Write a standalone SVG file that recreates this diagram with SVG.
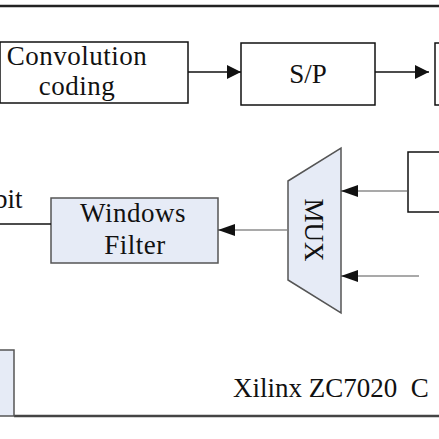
<svg xmlns="http://www.w3.org/2000/svg" width="439" height="439" viewBox="0 0 439 439">
<style>
.box{fill:#fff;stroke:#111;stroke-width:1.5}
.blue{fill:#e6ebf6;stroke:#555;stroke-width:1.5}
.ln{stroke:#111;stroke-width:1.5;fill:none}
.gl{stroke:#555;stroke-width:1.2;fill:none}
</style>
<defs>
<marker id="ah" markerWidth="15" markerHeight="14" refX="14" refY="7" orient="auto" markerUnits="userSpaceOnUse">
<path d="M0,0 L14,7 L0,14 Z" fill="#111"/>
</marker>
<marker id="ah2" markerWidth="18" markerHeight="12" refX="17" refY="6" orient="auto" markerUnits="userSpaceOnUse">
<path d="M0,0 L17,6 L0,12 Z" fill="#111"/>
</marker>
</defs>
<rect width="439" height="439" fill="#fff"/>
<line x1="0" y1="6" x2="439" y2="6" stroke="#222" stroke-width="2.5"/>
<line x1="14" y1="416" x2="439" y2="416" stroke="#444" stroke-width="2.5"/>
<g font-family="Liberation Serif" font-size="27" fill="#111">
<g id="conv"><rect class="box" x="0" y="42" width="188" height="61"/>
<text x="77" y="65" text-anchor="middle" letter-spacing="0.5">Convolution</text>
<text x="77" y="95" text-anchor="middle" letter-spacing="0.5">coding</text></g>
<g id="sp"><rect class="box" x="241" y="43" width="134" height="62"/>
<text x="308" y="83" text-anchor="middle">S/P</text></g>
<g id="next"><rect class="box" x="435" y="43" width="10" height="62"/></g>
<g id="rbox"><rect class="box" x="408" y="152" width="40" height="60"/></g>
<g id="wf"><rect class="blue" x="51" y="198" width="167" height="65"/>
<text x="133" y="222" text-anchor="middle" letter-spacing="0.5">Windows</text>
<text x="135" y="254" text-anchor="middle" letter-spacing="0.5">Filter</text></g>
<g id="mux"><polygon class="blue" points="288,181 341,148 341,313 288,280"/>
<text transform="translate(305,230) rotate(90)" text-anchor="middle">MUX</text></g>
<g id="bl"><rect class="blue" x="-2" y="350" width="16" height="66"/></g>
<text x="-6" y="208">bit</text>
<text x="233" y="397" xml:space="preserve">Xilinx ZC7020  C</text>
</g>
<g id="connectors">
<line class="ln" x1="188" y1="72" x2="241" y2="72" marker-end="url(#ah)"/>
<line class="ln" x1="375" y1="72" x2="429" y2="72" marker-end="url(#ah)"/>
<line class="gl" x1="408" y1="191" x2="341" y2="191" marker-end="url(#ah2)"/>
<line class="gl" x1="419" y1="276" x2="341" y2="276" marker-end="url(#ah2)"/>
<line class="gl" x1="287" y1="230" x2="218" y2="230" marker-end="url(#ah2)"/>
<line class="ln" x1="0" y1="224" x2="51" y2="224" stroke-width="1.2"/>
</g>
</svg>
